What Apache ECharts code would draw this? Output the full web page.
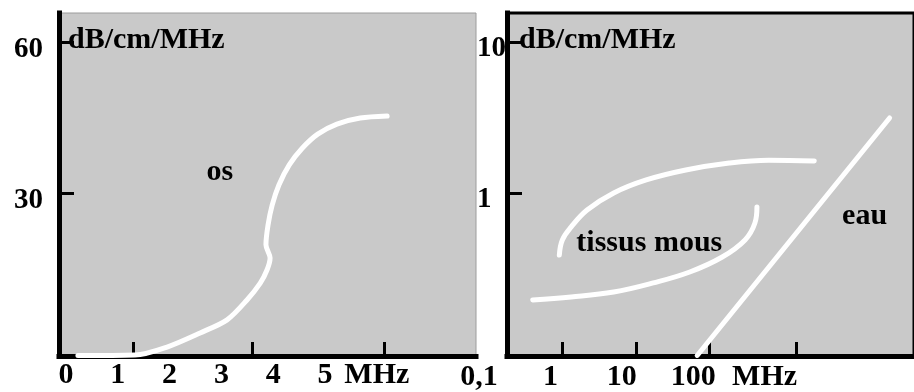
<!DOCTYPE html>
<html>
<head>
<meta charset="utf-8">
<script src="https://cdn.jsdelivr.net/npm/echarts@6/dist/echarts.min.js"></script>
<style>
html,body{margin:0;padding:0;background:#fff;}
#chart{width:914px;height:392px;}
</style>
</head>
<body>
<div id="chart"></div>
<script>
// ---- Left panel (os), linear axes ----
const leftXLabelValues = [0, 1, 2, 3, 4, 5, 6];
const leftXLabels = ['0', '1', '2', '3', '4', '5', 'MHz'];
const leftXTickValues = [1.3, 3.6, 6.15];
const leftYTickValues = [30, 60];
const leftYName = 'dB/cm/MHz';

const osFreq = [0.23, 1.33, 1.95, 2.59, 3.11, 3.49, 3.75, 3.88, 3.94, 3.86, 3.90, 3.98, 4.11, 4.31, 4.56, 4.86, 5.23, 5.68, 6.20];
const osAtt  = [-2.3, -2.2, -0.6, 2.2, 4.8, 8.7, 12.1, 14.7, 17.1, 19.7, 23.6, 27.6, 31.6, 35.6, 38.9, 41.7, 43.7, 44.9, 45.3];

// ---- Right panel (tissus mous, eau), log axes ----
const rightXLabelValues = [0.1, 1, 10, 100, 1000];
const rightXLabels = ['0,1', '1', '10', '100', 'MHz'];
const rightXTickValues = [1, 10, 100, 1500];
const rightYTickValues = [1, 10];
const rightYName = 'dB/cm/MHz';

const tissusUpperFreq = [0.91, 1.0, 1.32, 2.17, 4.99, 13.8, 47.6, 185, 639, 2650];
const tissusUpperAtt  = [0.388, 0.489, 0.596, 0.771, 1.0, 1.22, 1.42, 1.58, 1.65, 1.63];
const tissusLowerFreq = [0.396, 1.32, 4.99, 17.2, 53.9, 149, 304, 414, 441];
const tissusLowerAtt  = [0.196, 0.205, 0.221, 0.254, 0.300, 0.377, 0.489, 0.633, 0.808];
const eauFreq = [68, 28000];
const eauAtt  = [0.084, 3.14];

// ---- Annotations (data coordinates) ----
const leftNotes = [{ name: 'os', value: [2.97, 34.2] }];
const rightNotes = [{ name: 'tissus mous', value: [15.2, 0.467] }, { name: 'eau', value: [12800, 0.705] }];

const zip = (a, b) => a.map((v, i) => [v, b[i]]);
const FONT = 'Liberation Serif';
const txt = { fontFamily: FONT, fontWeight: 'bold', color: '#000', textBorderWidth: 0 };
const axisLine = { show: true, onZero: false, lineStyle: { color: '#000', width: 5, cap: 'square' } };

const chart = echarts.init(document.getElementById('chart'), null, { renderer: 'canvas' });
chart.setOption({
  animation: false,
  backgroundColor: '#fff',
  grid: [
    { left: 59, top: 13, width: 417, height: 343, show: true, backgroundColor: '#c9c9c9', borderColor: '#9c9c9c', borderWidth: 1 },
    { left: 507, top: 13, width: 412, height: 343, show: true, backgroundColor: '#c9c9c9', borderColor: '#000', borderWidth: 3 },
    { left: 460, top: 13, width: 454, height: 343, show: false }
  ],
  xAxis: [
    { gridIndex: 0, type: 'value', min: -0.135, max: 7.915,
      axisLine: axisLine,
      axisTick: { show: true, inside: true, length: 14, lineStyle: { color: '#000', width: 3 }, customValues: leftXTickValues },
      axisLabel: Object.assign({ fontSize: 30, margin: 4, customValues: leftXLabelValues,
        formatter: v => leftXLabels[leftXLabelValues.indexOf(Math.round(v))] }, txt),
      splitLine: { show: false } },
    { gridIndex: 1, type: 'log', min: 0.177, max: 60100,
      axisLine: axisLine,
      axisTick: { show: true, inside: true, length: 14, lineStyle: { color: '#000', width: 3 }, customValues: rightXTickValues },
      axisLabel: { show: false },
      splitLine: { show: false }, minorTick: { show: false } },
    { gridIndex: 2, type: 'log', min: 0.0542, max: 123700,
      axisLine: { show: false }, axisTick: { show: false },
      axisLabel: Object.assign({ fontSize: 30, margin: 7, customValues: rightXLabelValues,
        formatter: v => {
          const i = rightXLabelValues.findIndex(x => Math.abs(Math.log10(x) - Math.log10(v)) < 0.01);
          return i >= 0 ? rightXLabels[i] : '';
        } }, txt),
      splitLine: { show: false } }
  ],
  yAxis: [
    { gridIndex: 0, type: 'value', min: -2.38, max: 65.76,
      axisLine: axisLine,
      axisTick: { show: true, inside: true, length: 15, lineStyle: { color: '#000', width: 3 }, customValues: leftYTickValues },
      axisLabel: Object.assign({ fontSize: 29, margin: 16, customValues: leftYTickValues, verticalAlign: 'top', lineHeight: 16 }, txt),
      splitLine: { show: false },
      name: leftYName, nameLocation: 'end', nameGap: -27, nameMoveOverlap: false,
      nameTextStyle: Object.assign({ fontSize: 30, align: 'left', verticalAlign: 'middle', padding: [0, 0, 0, 9] }, txt) },
    { gridIndex: 1, type: 'log', min: 0.0833, max: 15.56,
      axisLine: axisLine,
      axisTick: { show: true, inside: true, length: 15, lineStyle: { color: '#000', width: 3 }, customValues: rightYTickValues },
      axisLabel: Object.assign({ fontSize: 29, margin: 30, align: 'left', customValues: rightYTickValues, verticalAlign: 'top', lineHeight: 14 }, txt),
      splitLine: { show: false }, minorTick: { show: false },
      name: rightYName, nameLocation: 'end', nameGap: -27, nameMoveOverlap: false,
      nameTextStyle: Object.assign({ fontSize: 30, align: 'left', verticalAlign: 'middle', padding: [0, 0, 0, 12] }, txt) },
    { gridIndex: 2, type: 'value', show: false }
  ],
  series: [
    { name: 'os', type: 'line', xAxisIndex: 0, yAxisIndex: 0, data: zip(osFreq, osAtt),
      showSymbol: false, smooth: 0.3, lineStyle: { color: '#fff', width: 5, cap: 'round' }, z: 5 },
    { name: 'tissus mous (haut)', type: 'line', xAxisIndex: 1, yAxisIndex: 1, data: zip(tissusUpperFreq, tissusUpperAtt),
      showSymbol: false, smooth: 0.4, lineStyle: { color: '#fff', width: 5, cap: 'round' }, z: 5 },
    { name: 'tissus mous (bas)', type: 'line', xAxisIndex: 1, yAxisIndex: 1, data: zip(tissusLowerFreq, tissusLowerAtt),
      showSymbol: false, smooth: 0.4, lineStyle: { color: '#fff', width: 5, cap: 'round' }, z: 5 },
    { name: 'eau', type: 'line', xAxisIndex: 1, yAxisIndex: 1, data: zip(eauFreq, eauAtt),
      showSymbol: false, lineStyle: { color: '#fff', width: 5, cap: 'round' }, z: 5 },
    { name: 'notes gauche', type: 'scatter', xAxisIndex: 0, yAxisIndex: 0, data: leftNotes,
      symbolSize: 0, itemStyle: { color: '#000', opacity: 1 }, silent: true, z: 6,
      label: Object.assign({ show: true, position: 'inside', fontSize: 30, opacity: 1, formatter: p => p.name }, txt) },
    { name: 'notes droite', type: 'scatter', xAxisIndex: 1, yAxisIndex: 1, data: rightNotes,
      symbolSize: 0, itemStyle: { color: '#000', opacity: 1 }, silent: true, z: 6,
      label: Object.assign({ show: true, position: 'inside', fontSize: 30, opacity: 1, formatter: p => p.name }, txt) }
  ]
});
</script>
</body>
</html>
